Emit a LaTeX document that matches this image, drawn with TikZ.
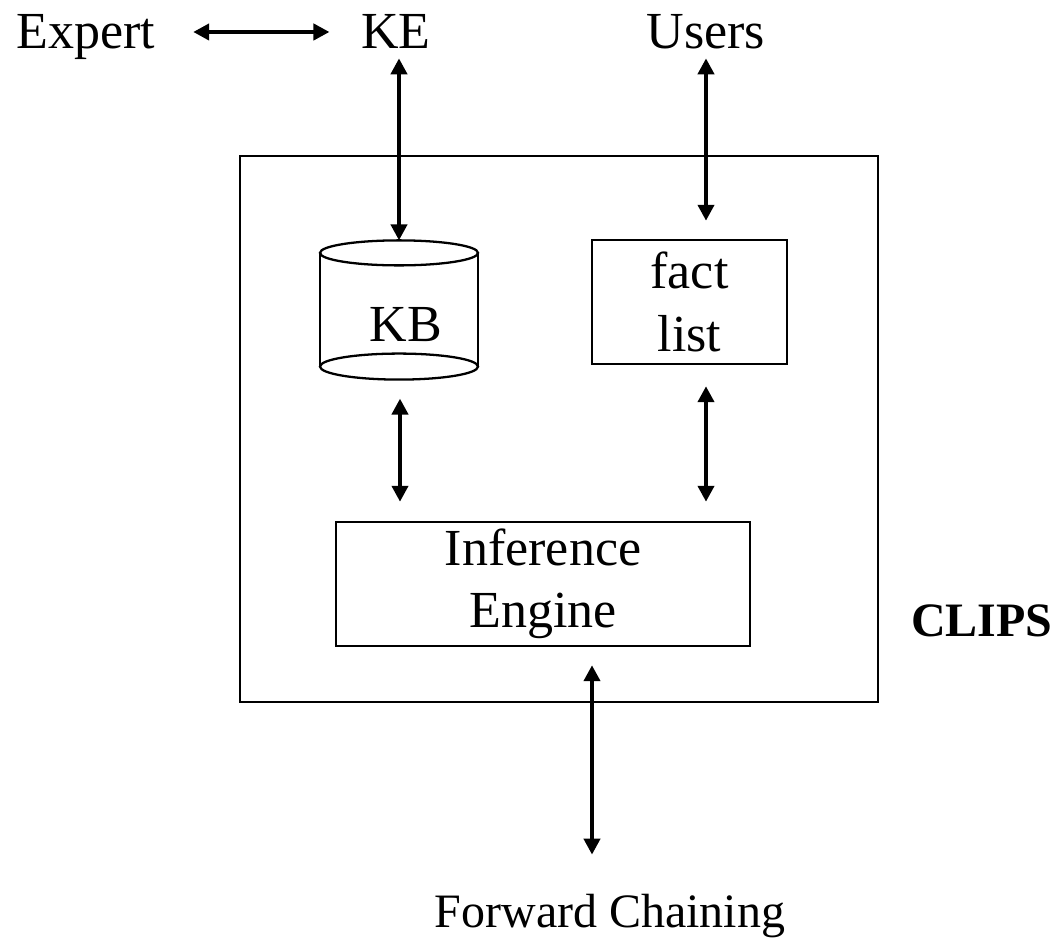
\documentclass[tikz,border=0pt]{standalone}
\usepackage{fontspec}
\setmainfont{Liberation Serif}
\usetikzlibrary{arrows.meta}

\begin{document}
\begin{tikzpicture}[
  lbl/.style={inner sep=0pt, anchor=base, text height=0.73cm, text depth=0.05cm,
    font=\fontsize{29.6}{35.5}\selectfont},
  blk/.style={draw, line width=1.4pt, align=center, inner sep=0pt,
    font=\fontsize{29.6}{35.5}\selectfont},
  link/.style={{Triangle[length=3.2mm,width=3.2mm]}-{Triangle[length=3.2mm,width=3.2mm]},
    line width=2.8pt},
  ]
\useasboundingbox (0,0) rectangle (21.18,18.8);
\node[lbl] (expert) at (1.72,17.82) {Expert};
\node[lbl] (ke) at (7.92,17.82) {KE};
\node[lbl] (users) at (14.12,17.82) {Users};
\node[draw, line width=1.4pt, minimum width=12.76cm, minimum height=10.92cm] (clips) at (11.18,10.22) {};
\node[lbl, font=\bfseries\fontsize{27.3}{32}\selectfont] (clipsname) at (19.64,6.06) {CLIPS};
% knowledge base drum
\node[minimum width=3.16cm, minimum height=2.77cm, inner sep=0pt] (kb) at (7.98,12.6) {};
\draw[line width=1.3pt] ([yshift=-0.25cm]kb.north) ellipse [x radius=1.58cm, y radius=0.25cm];
\draw[line width=1.3pt] ([yshift=0.26cm]kb.south) ellipse [x radius=1.58cm, y radius=0.26cm];
\draw[line width=1.3pt] ([yshift=-0.25cm]kb.north west) -- ([yshift=0.26cm]kb.south west)
  ([yshift=-0.25cm]kb.north east) -- ([yshift=0.26cm]kb.south east);
\node[lbl] (kbname) at (8.12,11.96) {KB};
\node[blk, minimum width=3.9cm, minimum height=2.48cm] (fact) at (13.79,12.76) {fact\\list};
\node[blk, minimum width=8.28cm, minimum height=2.48cm] (ie) at (10.86,7.12) {Inference\\Engine};
\node[lbl, font=\fontsize{27.3}{32}\selectfont] (fc) at (12.2,0.24) {Forward Chaining};
% connectors
\draw[link, shorten <=0.75cm, shorten >=0.63cm] (expert.east) -- (ke.west);
\draw[link, shorten <=0.13cm] (kb.north |- ke.south) -- (kb.north);
\draw[link, shorten <=0.13cm, shorten >=0.36cm] (users.south) -- (users.south |- fact.north);
\draw[link, shorten <=0.38cm, shorten >=0.38cm] ([xshift=0.02cm]kb.south) -- ([xshift=0.02cm]kb.south |- ie.north);
\draw[link, shorten <=0.42cm, shorten >=0.38cm] (fact.south -| users.south) -- (ie.north -| users.south);
\draw[link, shorten <=0.36cm, shorten >=0.73cm] ([xshift=0.98cm]ie.south) -- ([xshift=0.98cm]ie.south |- fc.north);
\end{tikzpicture}
\end{document}
